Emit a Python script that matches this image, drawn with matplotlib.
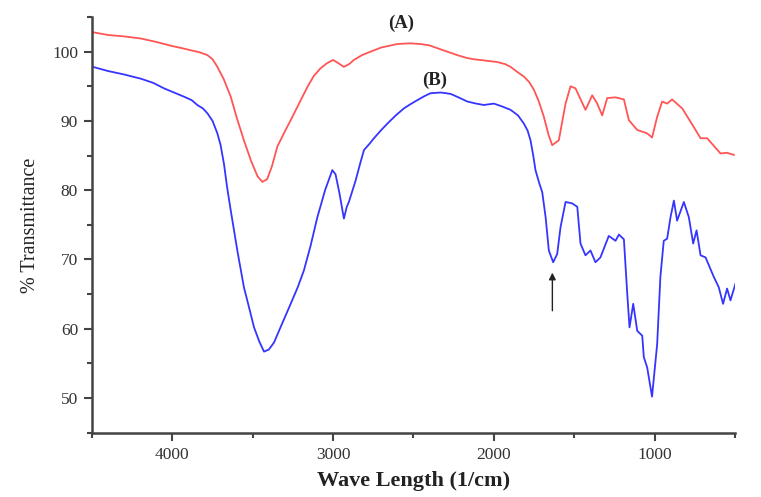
import matplotlib.pyplot as plt
import numpy as np

plt.rcParams['font.family'] = ['Liberation Serif', 'DejaVu Serif']

# spectrum (A)
wave_a = [4495, 4400, 4300, 4197, 4100, 4000, 3940, 3886, 3830, 3782, 3750, 3720,
          3680, 3637, 3600, 3555, 3510, 3470, 3440, 3410, 3380, 3347, 3300, 3264,
          3210, 3160, 3120, 3078, 3040, 3000, 2965, 2933, 2900, 2871, 2820, 2767,
          2700, 2601, 2520, 2456, 2400, 2352, 2290, 2228, 2170, 2124, 2050, 1979,
          1930, 1896, 1850, 1813, 1780, 1751, 1720, 1689, 1660, 1637, 1596, 1554,
          1523, 1492, 1430, 1388, 1357, 1326, 1295, 1243, 1191, 1160, 1108, 1046,
          1016, 984, 953, 922, 891, 828, 756, 714, 673, 590, 550, 507]
trans_a = [102.8, 102.4, 102.2, 101.9, 101.4, 100.8, 100.5, 100.2, 99.9, 99.5, 98.9, 97.8,
           96.0, 93.5, 90.5, 87.2, 84.2, 82.0, 81.2, 81.6, 83.5, 86.3, 88.5, 90.1,
           92.6, 94.9, 96.5, 97.6, 98.3, 98.8, 98.3, 97.8, 98.2, 98.8, 99.5, 100.0,
           100.6, 101.1, 101.2, 101.1, 100.9, 100.5, 100.0, 99.5, 99.1, 98.9, 98.7, 98.5,
           98.2, 97.8, 97.0, 96.4, 95.6, 94.5, 92.8, 90.6, 88.0, 86.5, 87.2, 92.5,
           95.0, 94.7, 91.6, 93.7, 92.5, 90.8, 93.3, 93.4, 93.1, 90.1, 88.7, 88.2,
           87.6, 90.6, 92.8, 92.5, 93.1, 91.8, 89.1, 87.5, 87.5, 85.3, 85.4, 85.1]

# spectrum (B)
wave_b = [4495, 4400, 4300, 4197, 4120, 4052, 3990, 3928, 3880, 3845, 3810, 3782,
          3750, 3720, 3700, 3679, 3660, 3637, 3596, 3555, 3520, 3492, 3460, 3430,
          3400, 3368, 3320, 3264, 3220, 3182, 3140, 3098, 3050, 3005, 2985, 2960,
          2933, 2915, 2902, 2860, 2830, 2808, 2770, 2746, 2700, 2663, 2610, 2560,
          2520, 2476, 2430, 2394, 2330, 2269, 2220, 2165, 2110, 2062, 2000, 1950,
          1896, 1850, 1813, 1790, 1772, 1755, 1741, 1720, 1699, 1678, 1658, 1631,
          1606, 1585, 1554, 1513, 1481, 1461, 1430, 1399, 1368, 1337, 1285, 1243,
          1222, 1191, 1170, 1156, 1133, 1108, 1077, 1067, 1046, 1016, 984, 964,
          943, 922, 901, 880, 860, 818, 787, 760, 739, 714, 683, 632,
          601, 574, 549, 528, 497]
trans_b = [97.8, 97.2, 96.7, 96.1, 95.5, 94.7, 94.1, 93.5, 93.0, 92.3, 91.8, 91.1,
           90.0, 88.2, 86.5, 83.8, 80.5, 77.1, 71.3, 66.0, 62.8, 60.2, 58.2, 56.7,
           57.0, 58.0, 60.6, 63.6, 66.0, 68.4, 72.0, 76.1, 80.0, 82.9, 82.3, 79.5,
           75.9, 77.6, 78.3, 81.4, 84.0, 85.8, 86.8, 87.5, 88.7, 89.6, 90.8, 91.8,
           92.4, 93.0, 93.6, 94.0, 94.1, 93.9, 93.4, 92.8, 92.5, 92.3, 92.5, 92.1,
           91.6, 90.8, 89.6, 88.6, 87.2, 85.0, 82.9, 81.2, 79.7, 76.1, 71.3, 69.6,
           70.8, 74.7, 78.3, 78.1, 77.6, 72.3, 70.6, 71.3, 69.6, 70.3, 73.4, 72.7,
           73.6, 72.9, 65.0, 60.2, 63.6, 59.7, 59.0, 55.9, 54.4, 50.2, 57.8, 67.5,
           72.7, 73.0, 76.1, 78.5, 75.6, 78.3, 76.1, 72.3, 74.2, 70.6, 70.3, 67.5,
           66.0, 63.6, 65.8, 64.1, 66.5]

fig = plt.figure(figsize=(7.61, 4.97), dpi=100)
ax = fig.add_axes([0.1209, 0.1294, 0.8449, 0.8364])

ax.plot(wave_a, trans_a, color='#ff5555', lw=1.3)
ax.plot(wave_b, trans_b, color='#3535ff', lw=1.3)

ax.set_xlim(4500, 500)
ax.set_ylim(45, 105)
ax.set_xticks([4000, 3000, 2000, 1000])
ax.set_xticks([4500, 3500, 2500, 1500, 500], minor=True)
ax.set_yticks([50, 60, 70, 80, 90, 100])
ax.set_yticks([45, 55, 65, 75, 85, 95, 105], minor=True)

ax.spines['right'].set_visible(False)
ax.spines['top'].set_visible(False)
for s in ['left', 'bottom']:
    ax.spines[s].set_color('#444444')
    ax.spines[s].set_linewidth(1.8)
ax.tick_params(which='major', direction='out', length=6, width=1.5, pad=4,
               color='#444444', labelsize=12.5, labelcolor='#333333')
ax.tick_params(which='minor', direction='out', length=3.5, width=1.5, color='#444444')

ax.set_xlabel('Wave Length (1/cm)', fontsize=16, fontweight='bold', color='#222222', labelpad=6)
ax.set_ylabel('% Transmittance', fontsize=14.5, color='#222222', labelpad=9)

ax.text(2574, 104.1, '(A)', fontsize=13.5, fontweight='bold', color='#222222', ha='center', va='center')
ax.text(2366, 95.9, '(B)', fontsize=13.5, fontweight='bold', color='#222222', ha='center', va='center')

ax.annotate('', xy=(1636, 68.5), xytext=(1636, 62.2),
            arrowprops=dict(arrowstyle='-|>', color='#222222', lw=1.0, mutation_scale=10))

fig.savefig('out.png', dpi=100)
